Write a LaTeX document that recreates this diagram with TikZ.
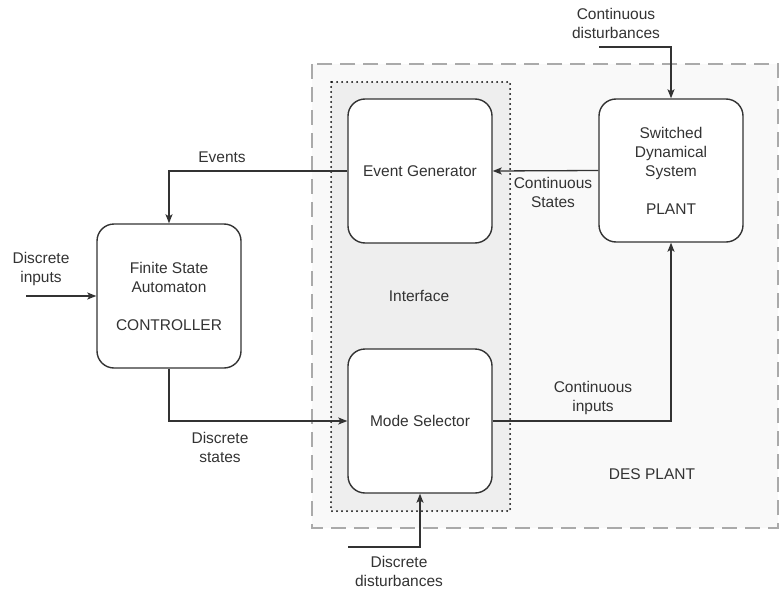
\documentclass[tikz,border=0pt]{standalone}
\usepackage{fontspec}
\setmainfont{Liberation Sans}
\usetikzlibrary{arrows.meta}
\definecolor{ink}{HTML}{333333}
\definecolor{outerfill}{HTML}{F9F9F9}
\definecolor{innerfill}{HTML}{EEEEEE}
\definecolor{dashgray}{HTML}{AAAAAA}
\tikzset{
  block/.style={draw=ink, line width=1.4pt, fill=white, rounded corners=17pt,
    minimum width=144pt, minimum height=144pt, align=center, inner sep=0pt,
    text=ink, font=\fontsize{15.5}{19}\selectfont},
  lbl/.style={align=center, text=ink, inner sep=0pt, font=\fontsize{15.5}{19}\selectfont},
  flow/.style={draw=ink, line width=1.3pt, -{Stealth[length=9pt,width=7pt,inset=2pt]}},
  desbox/.style={draw=dashgray, line width=2pt, fill=outerfill, dash pattern=on 15pt off 8pt},
  ifbox/.style={draw=black, line width=2pt, fill=innerfill, dash pattern=on 0pt off 5pt, line cap=round}
}
\begin{document}
\begin{tikzpicture}[x=1pt, y=-1pt]
  \useasboundingbox (0,0) rectangle (783,591);
  % enclosing DES plant and interface regions
  \draw[desbox] (312,64) rectangle (778,528);
  \draw[ifbox] (331,82) rectangle (510,511);
  \node[lbl] (des) at (652,474) {DES PLANT};
  \node[lbl] (iface) at (419,296) {Interface};

  % blocks
  \node[block] (eg) at (420,171) {Event Generator};
  \node[block] (ms) at (420,421) {Mode Selector};
  \node[block, minimum height=143pt] (plant) at (671,170.5) {Switched\\Dynamical\\System\\[19pt]PLANT};
  \node[block] (fsa) at (169,296) {Finite State\\Automaton\\[19pt]CONTROLLER};

  % free ends of external inputs
  \coordinate (din) at (26,296);
  \coordinate (cdist) at (599,47);
  \coordinate (ddist) at (348,547);

  % connectors
  \draw[flow] (plant.west) -- (eg.east);
  \draw[flow] (eg.west) -| (fsa.north);
  \draw[flow] (fsa.south) |- (ms.west);
  \draw[flow] (ms.east) -| (plant.south);
  \draw[flow] (din) -- (fsa.west);
  \draw[flow] (cdist) -| (plant.north);
  \draw[flow] (ddist) -| (ms.south);

  % connector labels
  \node[lbl] (levents) at (222,157) {Events};
  \node[lbl] (lcstates) at (553,192.5) {Continuous\\States};
  \node[lbl] (ldstates) at (220,447) {Discrete\\states};
  \node[lbl] (lcinputs) at (593,397.5) {Continuous\\inputs};
  \node[lbl] (ldinputs) at (41,268.5) {Discrete\\inputs};
  \node[lbl] (lcdist) at (616,23) {Continuous\\disturbances};
  \node[lbl] (lddist) at (399,571.5) {Discrete\\disturbances};
\end{tikzpicture}
\end{document}
